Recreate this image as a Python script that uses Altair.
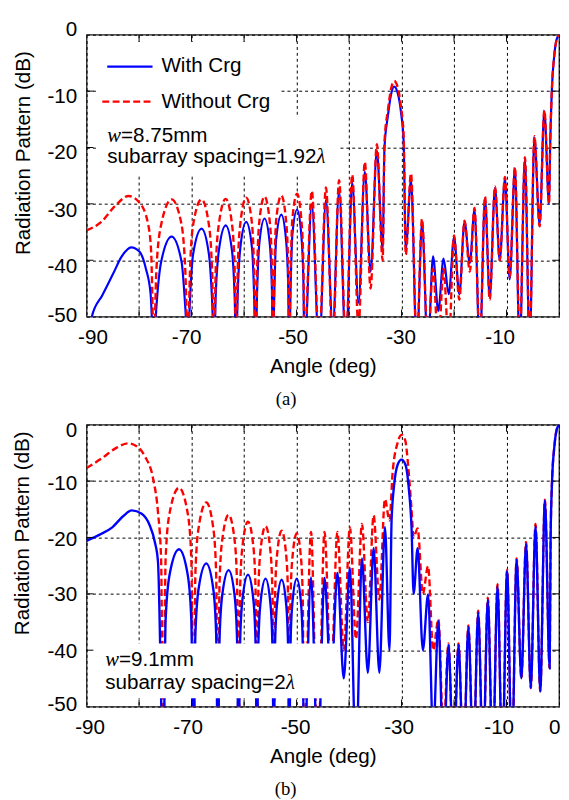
import altair as alt
import pandas as pd

SANS = "Liberation Sans"
SERIF = "Liberation Serif"

# ------------------------------------------------------------------ data
# (angle in deg, radiation pattern in dB)
A_BLUE = [
    (-90.0, -56.0), (-89.0, -50.0), (-87.0, -46.2), (-85.0, -42.5), (-83.3, -39.3), (-81.5, -37.7),
    (-79.9, -38.5), (-78.7, -41.5), (-77.8, -46.0), (-77.2, -56.0),
    (-76.7, -48.3), (-75.8, -40.3), (-73.8, -35.8), (-71.9, -40.3), (-71.2, -48.3), (-70.7, -56.0),
    (-70.3, -46.9), (-69.7, -38.9), (-68.1, -34.4), (-66.7, -38.9), (-66.1, -46.9), (-65.7, -56.0),
    (-65.4, -46.3), (-64.8, -38.3), (-63.5, -33.8), (-62.3, -38.3), (-61.8, -46.3), (-61.5, -56.0),
    (-61.2, -45.7), (-60.7, -37.7), (-59.6, -33.2), (-58.5, -37.7), (-58.1, -45.7), (-57.8, -56.0),
    (-57.5, -45.1), (-57.1, -37.1), (-56.1, -32.6), (-55.1, -37.1), (-54.7, -45.1), (-54.5, -56.0),
    (-54.2, -44.4), (-53.9, -36.4), (-52.9, -31.9), (-52.0, -36.4), (-51.6, -44.4), (-51.4, -56.0),
    (-51.1, -43.5), (-50.8, -35.5), (-49.9, -31.0), (-49.1, -35.5), (-48.7, -43.5), (-48.5, -56.0),
    (-47.1, -30.1), (-45.7, -56.0), (-44.4, -29.3), (-43.1, -52.0), (-41.9, -27.7), (-40.6, -56.0),
    (-39.4, -26.2), (-38.2, -47.5), (-37.0, -24.3), (-35.9, -42.0), (-34.7, -20.6), (-33.6, -38.0),
    (-33.25, -20.0), (-32.6, -14.4), (-32.0, -10.6), (-31.4, -9.2), (-30.75, -10.3), (-30.1, -13.8),
    (-29.6, -19.0), (-29.2, -38.0),
    (-28.2, -25.8), (-27.1, -56.0), (-26.1, -33.3), (-25.0, -56.0), (-24.0, -39.3), (-23.0, -49.0),
    (-22.0, -39.7), (-21.0, -46.0), (-20.0, -35.9), (-19.0, -46.0), (-18.0, -33.2), (-17.0, -40.5),
    (-16.1, -31.0), (-15.1, -56.0), (-14.1, -29.0), (-13.2, -46.6), (-12.2, -27.2), (-11.3, -40.0),
    (-10.3, -25.5), (-9.4, -43.4), (-8.4, -23.7), (-7.5, -56.0), (-6.5, -21.9), (-5.6, -56.0),
    (-4.7, -18.2), (-3.7, -33.6), (-2.8, -13.6), (-1.9, -30.0), (-1.7, -20.0), (-1.4, -10.5),
    (-0.9, -3.6), (-0.45, -0.8), (0.0, 0.0),
]

A_RED = [
    (-90.0, -34.7), (-87.2, -33.2), (-84.6, -30.4), (-82.0, -28.6), (-79.9, -29.8), (-78.3, -33.5),
    (-77.7, -38.5), (-77.2, -55.0),
    (-76.7, -41.7), (-75.8, -33.7), (-73.8, -29.2), (-71.9, -33.7), (-71.2, -41.7), (-70.7, -55.0),
    (-70.3, -41.7), (-69.7, -33.7), (-68.1, -29.2), (-66.7, -33.7), (-66.1, -41.7), (-65.7, -55.0),
    (-65.4, -41.6), (-64.8, -33.6), (-63.5, -29.1), (-62.3, -33.6), (-61.8, -41.6), (-61.5, -55.0),
    (-61.2, -41.4), (-60.7, -33.4), (-59.6, -28.9), (-58.5, -33.4), (-58.1, -41.4), (-57.8, -55.0),
    (-57.5, -41.2), (-57.1, -33.2), (-56.1, -28.7), (-55.1, -33.2), (-54.7, -41.2), (-54.5, -55.0),
    (-54.2, -41.0), (-53.9, -33.0), (-52.9, -28.5), (-52.0, -33.0), (-51.6, -41.0), (-51.4, -55.0),
    (-51.1, -40.7), (-50.8, -32.7), (-49.9, -28.2), (-49.1, -32.7), (-48.7, -40.7), (-48.5, -55.0),
    (-47.1, -27.7), (-45.7, -55.0), (-44.4, -27.1), (-43.1, -55.0), (-41.9, -25.8), (-40.6, -55.0),
    (-39.4, -24.8), (-38.2, -52.0), (-37.0, -22.6), (-35.9, -45.0), (-34.7, -19.4), (-33.6, -40.0),
    (-33.25, -19.0), (-32.6, -13.4), (-32.0, -9.6), (-31.4, -8.2), (-30.75, -9.3), (-30.1, -12.8),
    (-29.6, -18.0), (-29.2, -39.0),
    (-28.2, -24.6), (-27.1, -55.0), (-26.1, -32.7), (-25.0, -55.0), (-24.0, -41.5), (-23.0, -55.0),
    (-22.0, -41.5), (-21.0, -55.0), (-20.0, -35.6), (-19.0, -47.0), (-18.0, -33.0), (-17.0, -42.0),
    (-16.1, -30.7), (-15.1, -55.0), (-14.1, -28.7), (-13.2, -47.0), (-12.2, -26.9), (-11.3, -40.0),
    (-10.3, -25.2), (-9.4, -43.0), (-8.4, -23.5), (-7.5, -55.0), (-6.5, -21.7), (-5.6, -55.0),
    (-4.7, -18.0), (-3.7, -34.0), (-2.8, -13.4), (-1.9, -30.0), (-1.7, -20.0), (-1.4, -10.5),
    (-0.9, -3.6), (-0.45, -0.8), (0.0, 0.0),
]

B_BLUE = [
    (-90.0, -20.6), (-87.5, -19.5), (-85.1, -18.2), (-83.0, -16.2), (-81.4, -15.2), (-79.5, -15.8),
    (-78.0, -17.8), (-77.0, -20.8), (-76.4, -24.3), (-75.4, -60.0),
    (-74.94, -34.6), (-74.19, -26.6), (-72.39, -22.1), (-70.74, -26.6), (-70.05, -34.6), (-69.64, -60.0),
    (-69.27, -37.1), (-68.66, -29.1), (-67.20, -24.6), (-65.87, -29.1), (-65.32, -37.1), (-64.99, -60.0),
    (-64.68, -38.3), (-64.17, -30.3), (-62.94, -25.8), (-61.80, -30.3), (-61.33, -38.3), (-61.04, -60.0),
    (-60.77, -39.1), (-60.32, -31.1), (-59.25, -26.6), (-58.22, -31.1), (-57.80, -39.1), (-57.54, -60.0),
    (-57.30, -39.8), (-56.89, -31.8), (-55.91, -27.3), (-54.97, -31.8), (-54.58, -39.8), (-54.34, -60.0),
    (-54.12, -40.0), (-53.74, -32.0), (-52.84, -27.5), (-51.96, -32.0), (-51.60, -40.0), (-51.38, -60.0),
    (-51.17, -39.8), (-50.81, -31.8), (-49.96, -27.3), (-49.14, -31.8), (-48.80, -39.8), (-48.59, -60.0),
    (-47.25, -27.1), (-45.95, -60.0), (-44.68, -27.2), (-43.43, -46.0), (-42.22, -26.3), (-41.01, -45.0),
    (-39.84, -25.4), (-38.68, -60.0), (-37.55, -23.7), (-36.42, -44.0), (-35.32, -21.9), (-34.23, -44.0),
    (-33.16, -18.2), (-32.3, -40.0),
    (-31.9, -17.0), (-31.4, -10.6), (-30.75, -7.1), (-30.0, -6.2), (-29.25, -7.1), (-28.6, -11.5),
    (-28.1, -18.2), (-27.7, -30.0),
    (-26.94, -21.9), (-25.94, -40.0), (-24.95, -30.1), (-23.97, -55.0), (-22.99, -34.8), (-22.02, -60.0),
    (-21.06, -39.1), (-20.11, -60.0), (-19.15, -39.1), (-18.21, -60.0), (-17.27, -35.9), (-16.33, -60.0),
    (-15.40, -33.3), (-14.48, -60.0), (-13.56, -31.0), (-12.64, -60.0), (-11.72, -28.6), (-10.81, -60.0),
    (-9.90, -26.0), (-8.99, -60.0), (-8.08, -24.0), (-7.18, -45.0), (-6.28, -21.1), (-5.38, -46.7),
    (-4.48, -17.9), (-3.58, -47.3), (-2.69, -13.5), (-1.79, -43.2), (-1.6, -20.0), (-1.35, -10.5),
    (-0.86, -3.6), (-0.43, -0.8), (0.0, 0.0),
]

B_RED = [
    (-90.0, -7.7), (-87.0, -5.9), (-84.5, -4.2), (-82.0, -3.3), (-80.2, -4.0), (-78.9, -5.6),
    (-77.3, -9.7), (-76.4, -15.5), (-75.8, -24.0), (-75.4, -60.0),
    (-74.94, -23.7), (-74.19, -15.7), (-72.39, -11.2), (-70.74, -15.7), (-70.05, -23.7), (-69.64, -60.0),
    (-69.27, -26.3), (-68.66, -18.3), (-67.20, -13.8), (-65.87, -18.3), (-65.32, -26.3), (-64.99, -60.0),
    (-64.68, -28.5), (-64.17, -20.5), (-62.94, -16.0), (-61.80, -20.5), (-61.33, -28.5), (-61.04, -60.0),
    (-60.77, -29.7), (-60.32, -21.7), (-59.25, -17.2), (-58.22, -21.7), (-57.80, -29.7), (-57.54, -60.0),
    (-57.30, -30.5), (-56.89, -22.5), (-55.91, -18.0), (-54.97, -22.5), (-54.58, -30.5), (-54.34, -60.0),
    (-54.12, -31.3), (-53.74, -23.3), (-52.84, -18.8), (-51.96, -23.3), (-51.60, -31.3), (-51.38, -60.0),
    (-51.17, -31.8), (-50.81, -23.8), (-49.96, -19.3), (-49.14, -23.8), (-48.80, -31.8), (-48.59, -60.0),
    (-47.25, -19.0), (-45.95, -60.0), (-44.68, -19.0), (-43.43, -45.0), (-42.22, -19.0), (-41.01, -40.0),
    (-39.84, -18.2), (-38.68, -38.0), (-37.55, -17.6), (-36.42, -35.0), (-35.32, -16.1), (-34.23, -31.0),
    (-33.16, -13.2), (-32.3, -17.0),
    (-31.7, -8.5), (-30.75, -3.2), (-30.0, -1.8), (-29.3, -2.8), (-28.7, -7.7), (-28.1, -15.0),
    (-27.7, -20.0),
    (-26.94, -18.4), (-25.94, -30.0), (-24.95, -25.1), (-23.97, -40.0), (-22.99, -34.5), (-22.02, -55.0),
    (-21.06, -38.8), (-20.11, -60.0), (-19.15, -38.8), (-18.21, -60.0), (-17.27, -35.6), (-16.33, -60.0),
    (-15.40, -33.0), (-14.48, -60.0), (-13.56, -30.7), (-12.64, -60.0), (-11.72, -28.3), (-10.81, -60.0),
    (-9.90, -25.7), (-8.99, -60.0), (-8.08, -23.7), (-7.18, -45.0), (-6.28, -20.8), (-5.38, -46.7),
    (-4.48, -17.6), (-3.58, -47.3), (-2.69, -13.3), (-1.79, -43.2), (-1.6, -20.0), (-1.35, -10.5),
    (-0.86, -3.6), (-0.43, -0.8), (0.0, 0.0),
]

X_GRID = [-90, -80, -70, -60, -50, -40, -30, -20, -10, 0]
Y_GRID = [-50, -40, -30, -20, -10, 0]
X_INNER = [-80, -70, -60, -50, -40, -30, -20, -10]
Y_INNER = [-40, -30, -20, -10]
SERIES = ["With Crg", "Without Crg"]
TEXT_A = ("=8.75mm", "subarray spacing=1.92")
TEXT_B = ("=9.1mm", "subarray spacing=2")

# ------------------------------------------------------------------ layout / style
W, H = 481, 287
BLUE, RED = "#0000ff", "#ff0000"
DASH = [7, 3.5]
XS = alt.Scale(domain=[-90, 0], nice=False, zero=False)
YS = alt.Scale(domain=[-50, 0], nice=False, zero=False)
TICK_DX, TICK_DY = 1.3, 1.25   # inward tick length (data units, ~7px)


def cond_offsets(mapping, default):
    return {"condition": [{"test": f"datum.value == {k}", "value": v} for k, v in mapping.items()],
            "value": default}


def x_axis(label_expr, offs):
    return alt.Axis(values=X_GRID, grid=True, gridColor="black", gridDash=[3, 3], gridWidth=1,
                    gridOpacity=1, ticks=False, domain=False, labelExpr=label_expr,
                    labelFont=SANS, labelFontSize=21, labelColor="black", labelPadding=10,
                    labelFlush=False, labelOverlap=False, labelOffset=cond_offsets(offs, 0),
                    title="Angle (deg)", titleFont=SANS, titleFontSize=21, titleFontWeight="normal",
                    titleColor="black", titlePadding=9)


def y_axis(offs, tx, ty):
    return alt.Axis(values=Y_GRID, grid=True, gridColor="black", gridDash=[3, 3], gridWidth=1,
                    gridOpacity=1, ticks=False, domain=False, labelExpr="'' + datum.value",
                    labelFont=SANS, labelFontSize=21, labelColor="black", labelPadding=10,
                    labelFlush=False, labelOverlap=False, labelOffset=cond_offsets(offs, 0),
                    title="Radiation Pattern (dB)", titleFont=SANS, titleFontSize=21,
                    titleFontWeight="normal", titleColor="black", titleAngle=270,
                    titleAlign="center", titleBaseline="middle", titleX=tx, titleY=ty)


class Panel:
    def __init__(self, xa, ya):
        self.xa, self.ya = xa, ya

    def enc(self, **extra):
        d = dict(x=alt.X("x:Q", scale=XS, axis=self.xa), y=alt.Y("y:Q", scale=YS, axis=self.ya))
        d.update(extra)
        return d

    def curve(self, pts, color, width, dash=None):
        df = pd.DataFrame(pts, columns=["x", "y"])
        mk = dict(color=color, strokeWidth=width, interpolate="monotone", clip=True)
        if dash:
            mk["strokeDash"] = dash
        return alt.Chart(df).mark_line(**mk).encode(**self.enc())

    def box(self, x0, x1, y0, y1):
        df = pd.DataFrame([{"x": x0, "x2": x1, "y": y0, "y2": y1}])
        return alt.Chart(df).mark_rect(color="white").encode(**self.enc(x2="x2:Q", y2="y2:Q"))

    def label(self, x, y, text, font=SANS, style="normal", size=21, dx=0):
        df = pd.DataFrame([{"x": x, "y": y, "t": text}])
        return alt.Chart(df).mark_text(align="left", baseline="middle", font=font, fontStyle=style,
                                       fontSize=size, color="black", dx=dx).encode(
            **self.enc(text="t:N"))

    def sample(self, x0, x1, y, color, dash=None):
        df = pd.DataFrame([{"x": x0, "x2": x1, "y": y}])
        mk = dict(color=color, strokeWidth=2.2)
        if dash:
            mk["strokeDash"] = dash
        return alt.Chart(df).mark_rule(**mk).encode(**self.enc(x2="x2:Q"))

    def inner_ticks(self):
        rows = []
        for v in X_INNER:
            rows.append({"x": v, "x2": v, "y": 0, "y2": -TICK_DY})
            rows.append({"x": v, "x2": v, "y": -50, "y2": -50 + TICK_DY})
        for v in Y_INNER:
            rows.append({"x": -90, "x2": -90 + TICK_DX, "y": v, "y2": v})
            rows.append({"x": 0, "x2": -TICK_DX, "y": v, "y2": v})
        df = pd.DataFrame(rows)
        return alt.Chart(df).mark_rule(color="black", strokeWidth=1).encode(
            **self.enc(x2="x2:Q", y2="y2:Q"))


def caption(text, offset):
    return alt.TitleParams(text=text, orient="bottom", font=SERIF, fontSize=19, fontWeight="normal",
                           color="black", offset=offset, anchor="middle", frame="bounds")


# ------------------------------------------------------------------ panel (a)
pa = Panel(
    x_axis("(datum.value + 90) % 20 == 0 ? '' + datum.value : ''",
           {-90: 6, -70: -5.5, -50: -4, -30: -1, -10: -7}),
    y_axis({0: -5.5, -50: -1, -10: 6, -20: 5.5, -30: 6.5, -40: 6.5}, -64, 120),
)
panel_a = alt.layer(
    pa.curve(A_BLUE, BLUE, 2.2),
    pa.curve(A_RED, RED, 2.4, dash=DASH),
    pa.box(-87.8, -53.2, -1.3, -14.4),
    pa.box(-87.8, -42.0, -14.4, -25.0),
    pa.sample(-86.06, -77.44, -5.65, BLUE),
    pa.sample(-87.0, -77.44, -11.87, RED, DASH),
    pa.label(-75.75, -5.65, SERIES[0]),
    pa.label(-75.75, -11.87, SERIES[1]),
    pa.label(-86.06, -17.94, "w", font=SERIF, style="italic"),
    pa.label(-86.06, -17.94, TEXT_A[0], dx=14),
    pa.label(-86.06, -21.75, TEXT_A[1]),
    pa.label(-86.06, -21.75, "λ", font=SERIF, style="italic", dx=213),
    pa.inner_ticks(),
).properties(width=W, height=H, title=caption("(a)", 14))

# ------------------------------------------------------------------ panel (b)
pb = Panel(
    x_axis("(datum.value + 90) % 20 == 0 || datum.value == 0 ? '' + datum.value : ''",
           {-90: 3, -70: -4, -50: -1.5, -30: -3, -10: -8, 0: -5}),
    y_axis({0: 6.5, -10: 3, -20: 2, -30: 1, -40: 1, -50: -2}, -65.5, 110),
)
panel_b = alt.layer(
    pb.curve(B_RED, RED, 2.4, dash=DASH),
    pb.curve(B_BLUE, BLUE, 2.4),
    pb.box(-89.75, -42.2, -38.8, -48.5),
    pb.label(-86.46, -41.77, "w", font=SERIF, style="italic"),
    pb.label(-86.46, -41.77, TEXT_B[0], dx=14),
    pb.label(-86.46, -45.8, TEXT_B[1]),
    pb.label(-86.46, -45.8, "λ", font=SERIF, style="italic", dx=184),
    pb.inner_ticks(),
).properties(width=W, height=H, title=caption("(b)", 14))

chart = alt.vconcat(panel_a, panel_b, spacing=9).properties(
    padding={"left": 2, "top": 2, "right": 0, "bottom": 0}, background="white"
).configure_view(stroke="#1a1a1a", strokeWidth=1.3)

chart.save("out.html", embed_options={"renderer": "svg", "actions": False})
